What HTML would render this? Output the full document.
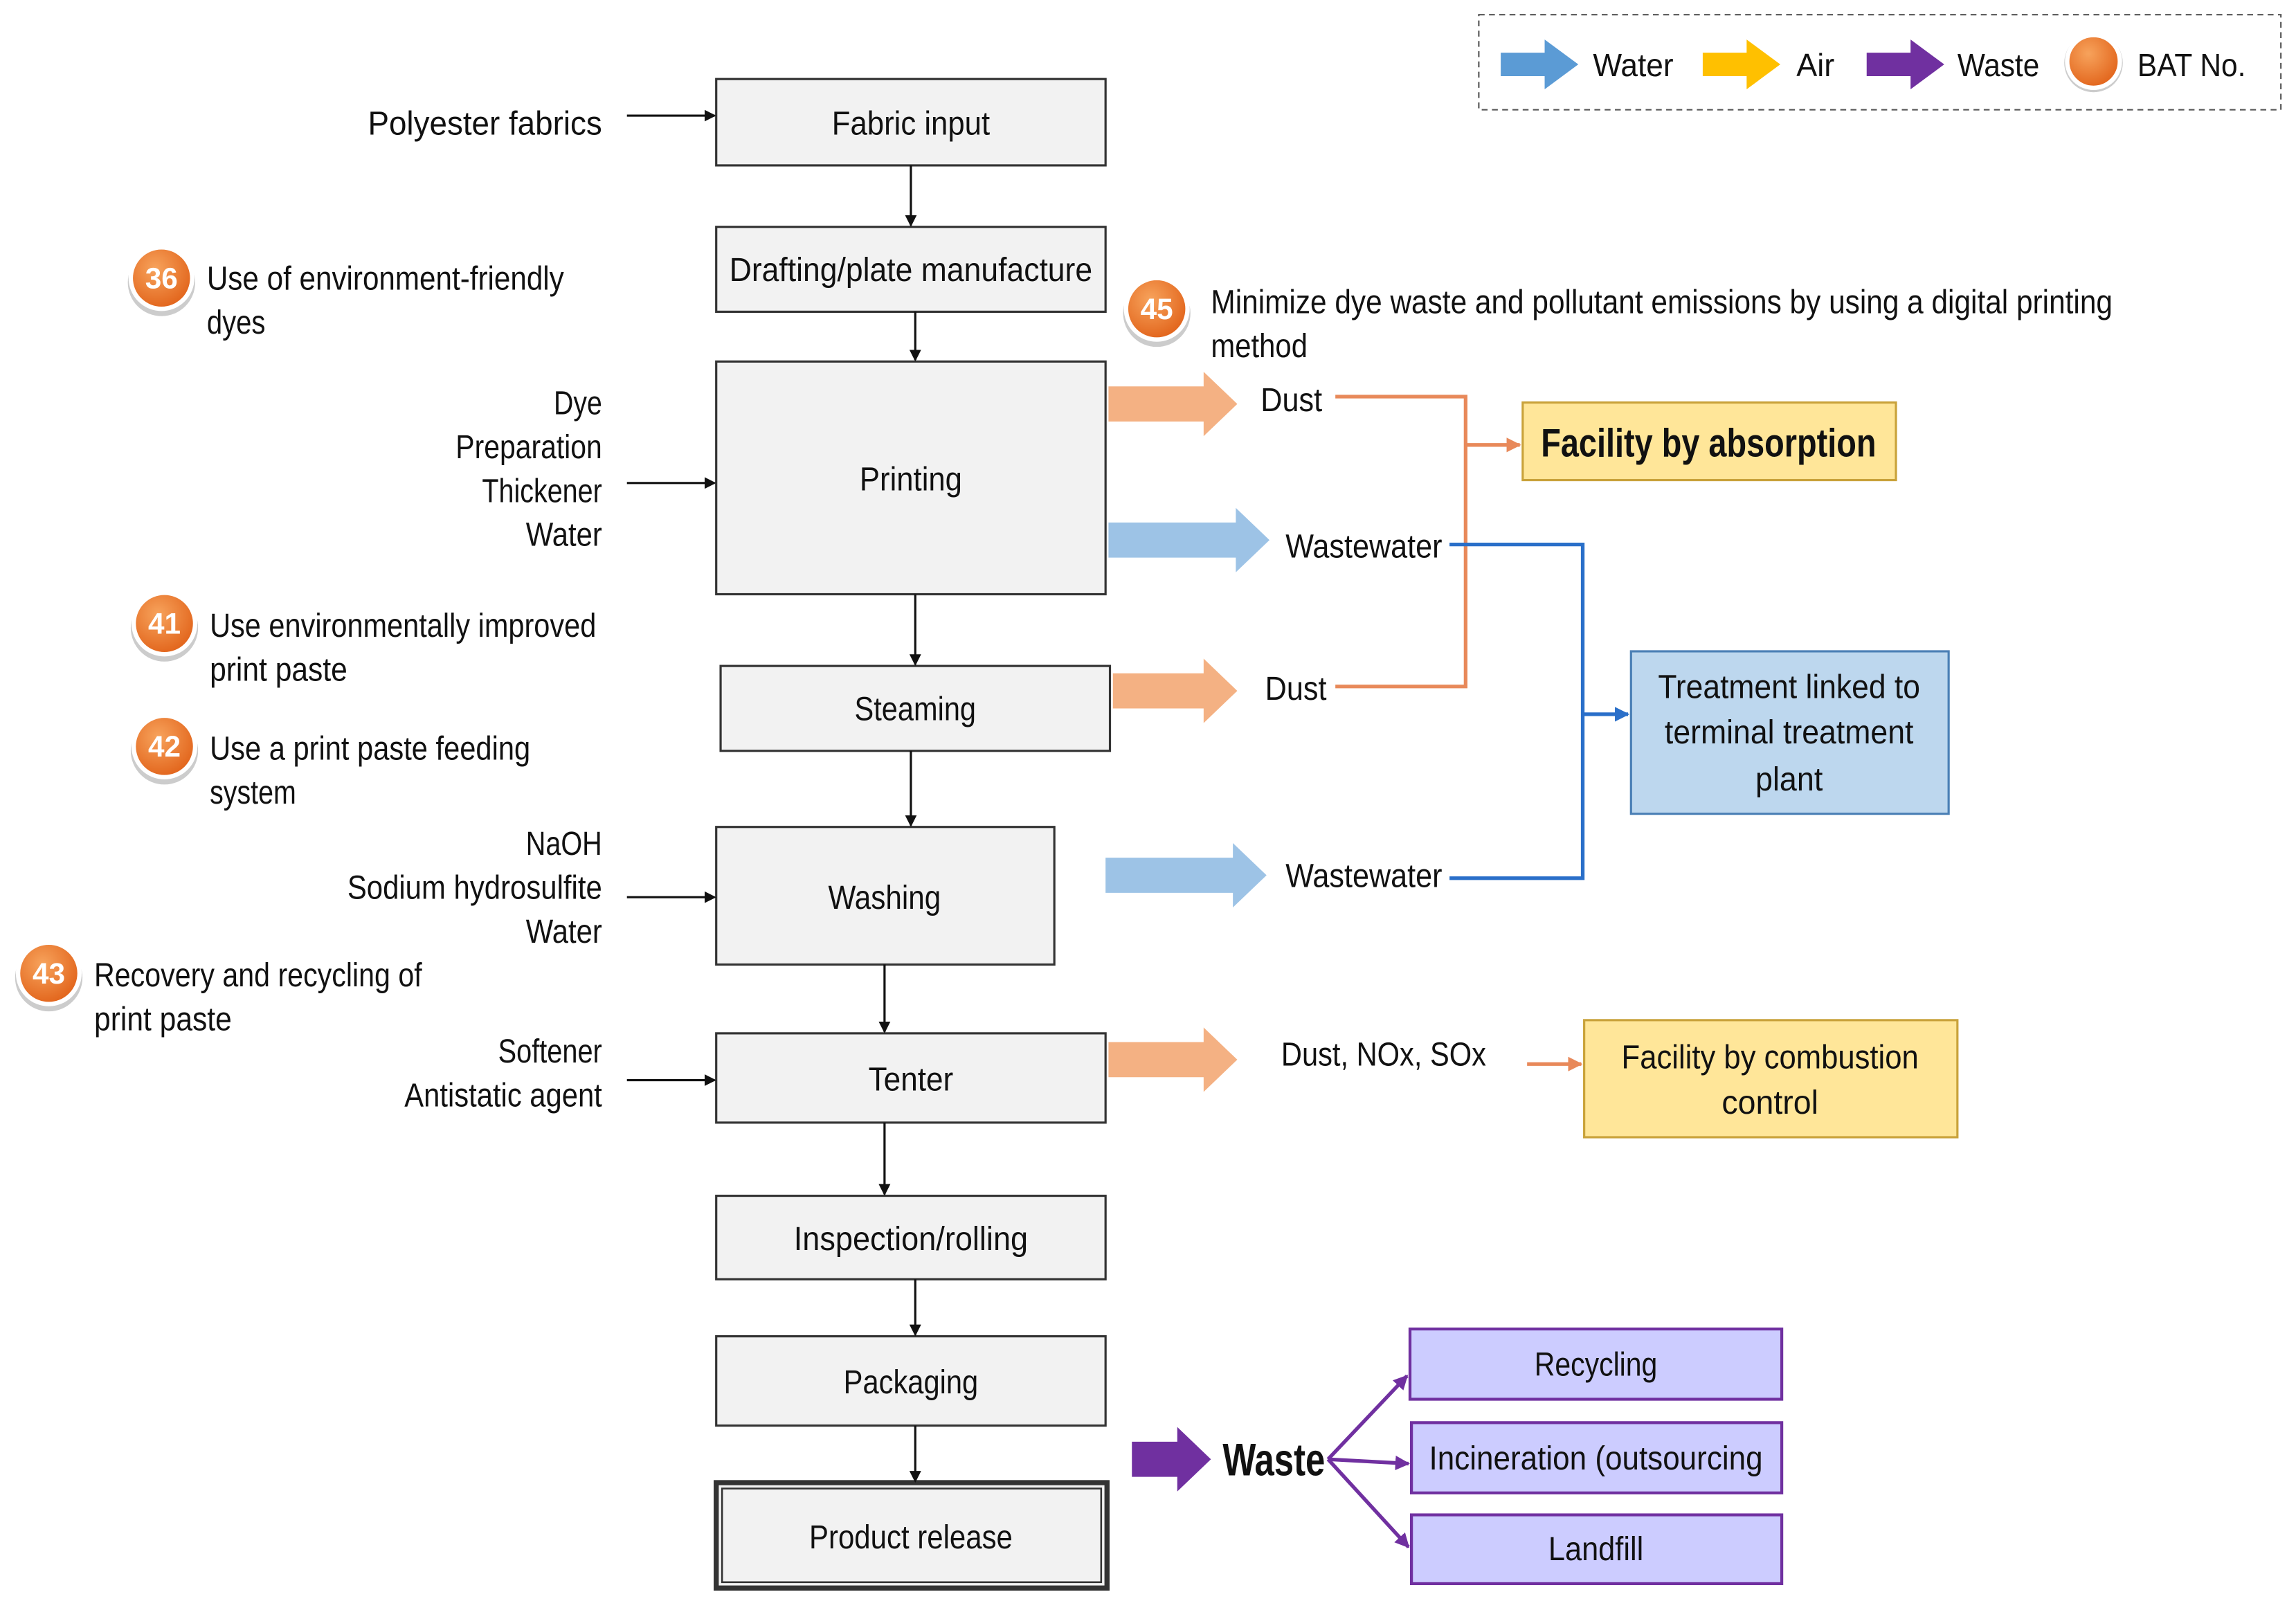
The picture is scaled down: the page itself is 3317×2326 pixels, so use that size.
<!DOCTYPE html>
<html><head><meta charset="utf-8"><style>
html,body{margin:0;padding:0;background:#fff;}
svg{display:block;}
text{font-family:"Liberation Sans",sans-serif;fill:#111;}
</style></head><body>
<svg width="3317" height="2326" viewBox="0 0 1568 1100" xmlns="http://www.w3.org/2000/svg">
<defs>
<marker id="ab" markerWidth="8" markerHeight="8" refX="7" refY="4" orient="auto" markerUnits="userSpaceOnUse"><path d="M0,0 L8,4 L0,8 z" fill="#111"/></marker>
<marker id="ao" markerWidth="10" markerHeight="10" refX="9" refY="5" orient="auto" markerUnits="userSpaceOnUse"><path d="M0,0 L10,5 L0,10 z" fill="#e8895a"/></marker>
<marker id="abl" markerWidth="10" markerHeight="10" refX="9" refY="5" orient="auto" markerUnits="userSpaceOnUse"><path d="M0,0 L10,5 L0,10 z" fill="#2a6fc9"/></marker>
<marker id="ap" markerWidth="10" markerHeight="10" refX="9" refY="5" orient="auto" markerUnits="userSpaceOnUse"><path d="M0,0 L10,5 L0,10 z" fill="#7030a0"/></marker>
<radialGradient id="og" cx="40%" cy="35%" r="65%"><stop offset="0" stop-color="#f7a35c"/><stop offset="1" stop-color="#e2651c"/></radialGradient>
</defs>

<!-- legend -->
<rect x="1010" y="10" width="548" height="65" fill="#fff" stroke="#555" stroke-dasharray="4,3"/>
<polygon points="1025,36 1055,36 1055,27 1078,44 1055,61 1055,52 1025,52" fill="#5b9bd5"/>
<text x="1088" y="52" font-size="22" textLength="55" lengthAdjust="spacingAndGlyphs">Water</text>
<polygon points="1163,36 1193,36 1193,27 1216,44 1193,61 1193,52 1163,52" fill="#ffc000"/>
<text x="1227" y="52" font-size="22" textLength="26" lengthAdjust="spacingAndGlyphs">Air</text>
<polygon points="1275,36 1305,36 1305,27 1328,44 1305,61 1305,52 1275,52" fill="#7030a0"/>
<text x="1337" y="52" font-size="22" textLength="56" lengthAdjust="spacingAndGlyphs">Waste</text>
<circle cx="1430" cy="43" r="20" fill="#ccc"/>
<circle cx="1430" cy="42" r="18" fill="url(#og)" stroke="#fff" stroke-width="3"/>
<text x="1460" y="52" font-size="22" textLength="74" lengthAdjust="spacingAndGlyphs">BAT No.</text>

<!-- main boxes -->
<g fill="#f2f2f2" stroke="#333" stroke-width="1.5">
<rect x="489" y="54" width="266" height="59"/>
<rect x="489" y="155" width="266" height="58"/>
<rect x="489" y="247" width="266" height="159"/>
<rect x="492" y="455" width="266" height="58"/>
<rect x="489" y="565" width="231" height="94"/>
<rect x="489" y="706" width="266" height="61"/>
<rect x="489" y="817" width="266" height="57"/>
<rect x="489" y="913" width="266" height="61"/>
<rect x="489" y="1013" width="267" height="72" stroke-width="3.5"/>
<rect x="493" y="1017" width="259" height="64" stroke-width="1.2" fill="none"/>
</g>
<g font-size="23" text-anchor="middle" lengthAdjust="spacingAndGlyphs">
<text x="622" y="92" textLength="108" lengthAdjust="spacingAndGlyphs">Fabric input</text>
<text x="622" y="192" textLength="248" lengthAdjust="spacingAndGlyphs">Drafting/plate manufacture</text>
<text x="622" y="335" textLength="70" lengthAdjust="spacingAndGlyphs">Printing</text>
<text x="625" y="492" textLength="83" lengthAdjust="spacingAndGlyphs">Steaming</text>
<text x="604" y="621" textLength="77" lengthAdjust="spacingAndGlyphs">Washing</text>
<text x="622" y="745" textLength="58" lengthAdjust="spacingAndGlyphs">Tenter</text>
<text x="622" y="854" textLength="160" lengthAdjust="spacingAndGlyphs">Inspection/rolling</text>
<text x="622" y="952" textLength="92" lengthAdjust="spacingAndGlyphs">Packaging</text>
<text x="622" y="1058" textLength="139" lengthAdjust="spacingAndGlyphs">Product release</text>
</g>

<!-- vertical arrows -->
<g stroke="#111" stroke-width="1.5" marker-end="url(#ab)">
<line x1="622" y1="113" x2="622" y2="154"/>
<line x1="625" y1="213" x2="625" y2="246"/>
<line x1="625" y1="406" x2="625" y2="454"/>
<line x1="622" y1="513" x2="622" y2="564"/>
<line x1="604" y1="659" x2="604" y2="705"/>
<line x1="604" y1="767" x2="604" y2="816"/>
<line x1="625" y1="874" x2="625" y2="912"/>
<line x1="625" y1="974" x2="625" y2="1012"/>
<line x1="428" y1="79" x2="488" y2="79"/>
<line x1="428" y1="330" x2="488" y2="330"/>
<line x1="428" y1="613" x2="488" y2="613"/>
<line x1="428" y1="738" x2="488" y2="738"/>
</g>

<!-- left labels -->
<g font-size="23" text-anchor="end">
<text x="411" y="92" textLength="160" lengthAdjust="spacingAndGlyphs">Polyester fabrics</text>
<text x="411" y="283" textLength="33" lengthAdjust="spacingAndGlyphs">Dye</text>
<text x="411" y="313" textLength="100" lengthAdjust="spacingAndGlyphs">Preparation</text>
<text x="411" y="343" textLength="82" lengthAdjust="spacingAndGlyphs">Thickener</text>
<text x="411" y="373" textLength="52" lengthAdjust="spacingAndGlyphs">Water</text>
<text x="411" y="584" textLength="52" lengthAdjust="spacingAndGlyphs">NaOH</text>
<text x="411" y="614" textLength="174" lengthAdjust="spacingAndGlyphs">Sodium hydrosulfite</text>
<text x="411" y="644" textLength="52" lengthAdjust="spacingAndGlyphs">Water</text>
<text x="411" y="726" textLength="71" lengthAdjust="spacingAndGlyphs">Softener</text>
<text x="411" y="756" textLength="135" lengthAdjust="spacingAndGlyphs">Antistatic agent</text>
</g>
<g font-size="23">
<text x="141" y="198" textLength="244" lengthAdjust="spacingAndGlyphs">Use of environment-friendly</text>
<text x="141" y="228" textLength="40" lengthAdjust="spacingAndGlyphs">dyes</text>
<text x="143" y="435" textLength="264" lengthAdjust="spacingAndGlyphs">Use environmentally improved</text>
<text x="143" y="465" textLength="94" lengthAdjust="spacingAndGlyphs">print paste</text>
<text x="143" y="519" textLength="219" lengthAdjust="spacingAndGlyphs">Use a print paste feeding</text>
<text x="143" y="549" textLength="59" lengthAdjust="spacingAndGlyphs">system</text>
<text x="64" y="674" textLength="224" lengthAdjust="spacingAndGlyphs">Recovery and recycling of</text>
<text x="64" y="704" textLength="94" lengthAdjust="spacingAndGlyphs">print paste</text>
<text x="827" y="214" textLength="616" lengthAdjust="spacingAndGlyphs">Minimize dye waste and pollutant emissions by using a digital printing</text>
<text x="827" y="244" textLength="66" lengthAdjust="spacingAndGlyphs">method</text>
</g>
<g fill="#ccc">
<circle cx="110" cy="193" r="23"/><circle cx="112" cy="429" r="23"/><circle cx="112" cy="513" r="23"/><circle cx="33" cy="668" r="23"/><circle cx="790" cy="214" r="23"/>
</g>
<g font-size="20" font-weight="bold" text-anchor="middle">
<circle cx="110" cy="190" r="21" fill="url(#og)" stroke="#fff" stroke-width="3"/><text x="110" y="197" style="fill:#fff">36</text>
<circle cx="112" cy="426" r="21" fill="url(#og)" stroke="#fff" stroke-width="3"/><text x="112" y="433" style="fill:#fff">41</text>
<circle cx="112" cy="510" r="21" fill="url(#og)" stroke="#fff" stroke-width="3"/><text x="112" y="517" style="fill:#fff">42</text>
<circle cx="33" cy="665" r="21" fill="url(#og)" stroke="#fff" stroke-width="3"/><text x="33" y="672" style="fill:#fff">43</text>
<circle cx="790" cy="211" r="21" fill="url(#og)" stroke="#fff" stroke-width="3"/><text x="790" y="218" style="fill:#fff">45</text>
</g>

<!-- fat arrows -->
<g fill="#f4b183">
<polygon points="757,264 822,264 822,254 845,276 822,298 822,288 757,288"/>
<polygon points="760,460 822,460 822,450 845,472 822,494 822,484 760,484"/>
<polygon points="757,712 822,712 822,702 845,724 822,746 822,736 757,736"/>
</g>
<g fill="#9dc3e6">
<polygon points="757,357 844,357 844,347 867,369 844,391 844,381 757,381"/>
<polygon points="755,586 842,586 842,576 865,598 842,620 842,610 755,610"/>
</g>
<polygon points="773,985 804,985 804,975 827,997 804,1019 804,1009 773,1009" fill="#7030a0"/>

<g font-size="23">
<text x="861" y="281" textLength="42" lengthAdjust="spacingAndGlyphs">Dust</text>
<text x="878" y="381" textLength="107" lengthAdjust="spacingAndGlyphs">Wastewater</text>
<text x="864" y="478" textLength="42" lengthAdjust="spacingAndGlyphs">Dust</text>
<text x="878" y="606" textLength="107" lengthAdjust="spacingAndGlyphs">Wastewater</text>
<text x="875" y="728" textLength="140" lengthAdjust="spacingAndGlyphs">Dust, NOx, SOx</text>
</g>
<text x="835" y="1008" font-size="31" font-weight="bold" textLength="70" lengthAdjust="spacingAndGlyphs">Waste</text>

<!-- orange connectors -->
<g stroke="#e8895a" stroke-width="2.5" fill="none">
<polyline points="912,271 1001,271 1001,469 912,469"/>
<line x1="1001" y1="304" x2="1038" y2="304" marker-end="url(#ao)"/>
<line x1="1043" y1="727" x2="1080" y2="727" marker-end="url(#ao)"/>
</g>
<!-- blue connectors -->
<g stroke="#2a6fc9" stroke-width="2.5" fill="none">
<polyline points="990,372 1081,372 1081,600 990,600"/>
<line x1="1081" y1="488" x2="1112" y2="488" marker-end="url(#abl)"/>
</g>
<!-- purple -->
<g stroke="#7030a0" stroke-width="2.5" fill="none">
<line x1="907" y1="997" x2="961" y2="940" marker-end="url(#ap)"/>
<line x1="907" y1="997" x2="962" y2="1000" marker-end="url(#ap)"/>
<line x1="907" y1="997" x2="962" y2="1057" marker-end="url(#ap)"/>
</g>

<!-- right boxes -->
<rect x="1040" y="275" width="255" height="53" fill="#ffe699" stroke="#c9a23a" stroke-width="1.5"/>
<text x="1167" y="312" font-size="27" font-weight="bold" text-anchor="middle" textLength="229" lengthAdjust="spacingAndGlyphs">Facility by absorption</text>
<rect x="1114" y="445" width="217" height="111" fill="#bdd7ee" stroke="#4a7fb5" stroke-width="1.5"/>
<g font-size="23" text-anchor="middle">
<text x="1222" y="477" textLength="179" lengthAdjust="spacingAndGlyphs">Treatment linked to</text>
<text x="1222" y="508" textLength="170" lengthAdjust="spacingAndGlyphs">terminal treatment</text>
<text x="1222" y="540" textLength="46" lengthAdjust="spacingAndGlyphs">plant</text>
</g>
<rect x="1082" y="697" width="255" height="80" fill="#ffe699" stroke="#c9a23a" stroke-width="1.5"/>
<g font-size="23" text-anchor="middle">
<text x="1209" y="730" textLength="203" lengthAdjust="spacingAndGlyphs">Facility by combustion</text>
<text x="1209" y="761" textLength="66" lengthAdjust="spacingAndGlyphs">control</text>
</g>
<g fill="#ccccff" stroke="#7030a0" stroke-width="2">
<rect x="963" y="908" width="254" height="48"/>
<rect x="964" y="972" width="253" height="48"/>
<rect x="964" y="1035" width="253" height="47"/>
</g>
<g font-size="23" text-anchor="middle">
<text x="1090" y="940" textLength="84" lengthAdjust="spacingAndGlyphs">Recycling</text>
<text x="1090" y="1004" textLength="228" lengthAdjust="spacingAndGlyphs">Incineration (outsourcing</text>
<text x="1090" y="1066" textLength="65" lengthAdjust="spacingAndGlyphs">Landfill</text>
</g>
</svg>
</body></html>
